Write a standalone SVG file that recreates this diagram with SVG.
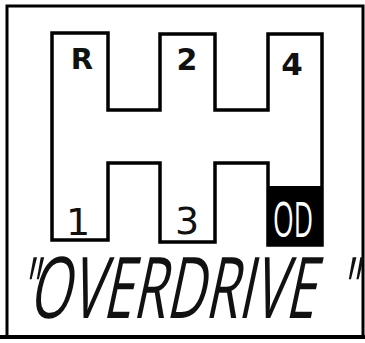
<svg xmlns="http://www.w3.org/2000/svg" width="365" height="343" viewBox="0 0 365 343">
<style>
.frame{fill:none;stroke:#000;stroke-width:3}
.gate{fill:none;stroke:#000;stroke-width:3.5;stroke-linejoin:miter}
.lbl{font-family:"DejaVu Sans","Liberation Sans",sans-serif;fill:#111;text-anchor:middle}
.big{font-family:"Open Sans","Roboto","DejaVu Sans",sans-serif;font-weight:400;fill:#111}
</style>
<rect width="365" height="343" fill="#fff"/>
<g id="frame">
<rect class="frame" x="7" y="6" width="356" height="331"/>
<line x1="0" y1="337" x2="365" y2="337" stroke="#000" stroke-width="4"/>
</g>
<g id="gate">
<path class="gate" d="M52,33 H108 V110 H160 V34 H215 V110 H268 V34 H322 V245 H268 V163 H215 V242 H160 V163 H108 V240 H52 Z"/>
</g>
<g id="od-box">
<rect x="268" y="186" width="54" height="59" fill="#000"/>
<text x="293" y="237" font-family="Open Sans,DejaVu Sans,sans-serif" font-size="50" fill="#fff" textLength="40" lengthAdjust="spacingAndGlyphs" text-anchor="middle">OD</text>
</g>
<g id="gear-R"><text class="lbl" x="82" y="69" font-size="29" font-weight="bold">R</text></g>
<g id="gear-2"><text class="lbl" x="187" y="70" font-size="30" font-weight="bold">2</text></g>
<g id="gear-4"><text class="lbl" x="292" y="75" font-size="31" font-weight="bold">4</text></g>
<g id="gear-1"><text class="lbl" x="78" y="235" font-size="38">1</text></g>
<g id="gear-3"><text class="lbl" x="187" y="234" font-size="38">3</text></g>
<g id="caption">
<g transform="translate(18,318) skewX(-12)"><text class="big" x="0" y="0" font-size="85" textLength="16" lengthAdjust="spacingAndGlyphs">"</text></g>
<g transform="translate(28,318) skewX(-12)"><text class="big" x="0" y="0" font-size="85" textLength="286" lengthAdjust="spacingAndGlyphs">OVERDRIVE</text></g>
<g transform="translate(337,318) skewX(-12)"><text class="big" x="0" y="0" font-size="85" textLength="17" lengthAdjust="spacingAndGlyphs">"</text></g>
</g>
</svg>
